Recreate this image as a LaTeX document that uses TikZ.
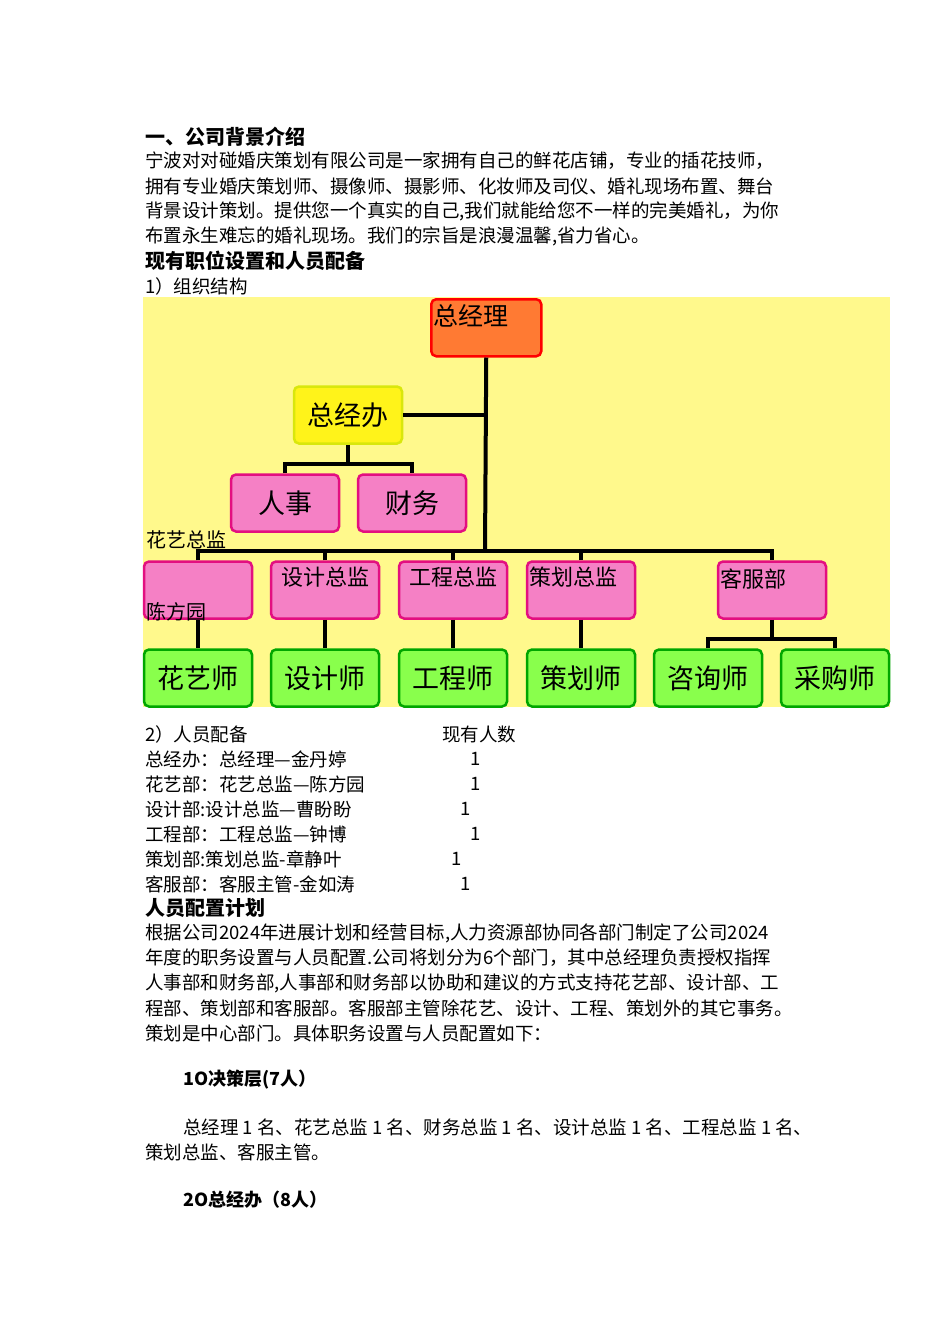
\documentclass[tikz,border=0pt]{standalone}
\usepackage{fontspec}
\setmainfont{Noto Sans CJK SC}
\begin{document}
\begin{tikzpicture}[x=1pt,y=-1pt,
  txt/.style={anchor=west,inner sep=0pt,font=\fontsize{18.5}{20}\selectfont},
  hd/.style={anchor=west,inner sep=0pt,font=\fontsize{20}{22}\selectfont\bfseries},
  bx/.style={draw,line width=2.5pt,rounded corners=5pt,minimum width=108pt,minimum height=57pt,inner sep=2pt,font=\fontsize{27}{28}\selectfont},
  pk/.style={bx,fill=magenta!50!white,draw=magenta!80!purple},
  gr/.style={bx,fill=green!55!lime!70!white,draw=green!65!black},
  ln/.style={line width=4pt},
  tl/.style={anchor=north west,inner sep=0pt,font=\fontsize{22}{24}\selectfont},
  lb/.style={anchor=west,inner sep=0pt,font=\fontsize{20}{20}\selectfont}]
\useasboundingbox (0,0) rectangle (950,1344);
\fill[white] (0,0) rectangle (950,1344);
% text top
\node[hd] (h1) at (145,137) {一、公司背景介绍};
\node[txt] (p1) at (145,161) {宁波对对碰婚庆策划有限公司是一家拥有自己的鲜花店铺，专业的插花技师，};
\node[txt] (p2) at (145,186) {拥有专业婚庆策划师、摄像师、摄影师、化妆师及司仪、婚礼现场布置、舞台};
\node[txt] (p3) at (145,211) {背景设计策划。提供您一个真实的自己,我们就能给您不一样的完美婚礼，为你};
\node[txt] (p4) at (145,236) {布置永生难忘的婚礼现场。我们的宗旨是浪漫温馨,省力省心。};
\node[hd] (h2) at (145,261) {现有职位设置和人员配备};
\node[txt] (p5) at (145,286) {1）组织结构};
% chart
\fill[yellow!45!white] (143,297) rectangle (890,707);
\node[bx,fill=orange!70!red!80!white,draw=red,anchor=north west,minimum width=110pt] (gm) at (430,298) {};
\node[tl,font=\fontsize{25}{26}\selectfont] (gmt) at (433,304) {总经理};
\node[bx,fill=yellow!90!white,draw=yellow!85!green] (zjb) at (348,415) {总经办};
\node[pk] (rs) at (285,503) {人事};
\node[pk] (cw) at (412,503) {财务};
\node[pk] (hy) at (198,590) {};
\node[pk] (sj) at (325,590) {};
\node[pk] (gc) at (453,590) {};
\node[pk] (ch) at (581,590) {};
\node[pk] (kf) at (772,590) {};
\node[tl] (sjt) at (281,567) {设计总监};
\node[tl] (gct) at (409,567) {工程总监};
\node[tl] (cht) at (529,567) {策划总监};
\node[tl] (kft) at (720,569) {客服部};
\node[gr] (hys) at (198,678) {花艺师};
\node[gr] (sjs) at (325,678) {设计师};
\node[gr] (gcs) at (453,678) {工程师};
\node[gr] (chs) at (581,678) {策划师};
\node[gr] (zxs) at (708,678) {咨询师};
\node[gr] (cgs) at (835,678) {采购师};
% lines
\coordinate (bus) at (485,551);
\draw[ln] (gm.south) -- (bus);
\draw[ln] (zjb.east) -- (zjb.east -| gm.south);
\draw[ln] (zjb.south) -- ++(0,19);
\draw[ln] (rs.north) |- (348,464) -| (cw.north);
\draw[ln] (hy.north) |- (bus) -| (kf.north);
\draw[ln] (sj.north) -- (sj.north |- bus);
\draw[ln] (gc.north) -- (gc.north |- bus);
\draw[ln] (ch.north) -- (ch.north |- bus);
\draw[ln] (hy.south) -- (hys.north);
\draw[ln] (sj.south) -- (sjs.north);
\draw[ln] (gc.south) -- (gcs.north);
\draw[ln] (ch.south) -- (chs.north);
\draw[ln] (kf.south) -- ++(0,19);
\draw[ln] (zxs.north) |- (772,639) -| (cgs.north);
\node[lb] (l1) at (146,540) {花艺总监};
\node[lb] (l2) at (146,612) {陈方园};
% lower text
\node[txt] (q1) at (145,734) {2）人员配备};
\node[txt] (q1n) at (442,734) {现有人数};
\node[txt] (q2) at (145,759) {总经办：总经理—金丹婷};
\node[txt] (n2) at (470,759) {1};
\node[txt] (q3) at (145,784) {花艺部：花艺总监—陈方园};
\node[txt] (n3) at (470,784) {1};
\node[txt] (q4) at (145,809) {设计部:设计总监—曹盼盼};
\node[txt] (n4) at (460,809) {1};
\node[txt] (q5) at (145,834) {工程部：工程总监—钟博};
\node[txt] (n5) at (470,834) {1};
\node[txt] (q6) at (145,859) {策划部:策划总监-章静叶};
\node[txt] (n6) at (451,859) {1};
\node[txt] (q7) at (145,884) {客服部：客服主管-金如涛};
\node[txt] (n7) at (460,884) {1};
\node[hd] (h3) at (145,908) {人员配置计划};
\node[txt] (r1) at (145,933) {根据公司2024年进展计划和经营目标,人力资源部协同各部门制定了公司2024};
\node[txt] (r2) at (145,958) {年度的职务设置与人员配置.公司将划分为6个部门，其中总经理负责授权指挥};
\node[txt] (r3) at (145,983) {人事部和财务部,人事部和财务部以协助和建议的方式支持花艺部、设计部、工};
\node[txt] (r4) at (145,1008) {程部、策划部和客服部。客服部主管除花艺、设计、工程、策划外的其它事务。};
\node[txt] (r5) at (145,1033) {策划是中心部门。具体职务设置与人员配置如下：};
\node[txt,font=\fontsize{18}{20}\selectfont\bfseries] (s1) at (183,1080) {1O决策层(7人）};
\node[txt] (s2) at (183,1127) {总经理 1 名、花艺总监 1 名、财务总监 1 名、设计总监 1 名、工程总监 1 名、};
\node[txt] (s3) at (145,1152) {策划总监、客服主管。};
\node[txt,font=\fontsize{18}{20}\selectfont\bfseries] (s4) at (183,1200) {2O总经办（8人）};
\end{tikzpicture}
\end{document}
